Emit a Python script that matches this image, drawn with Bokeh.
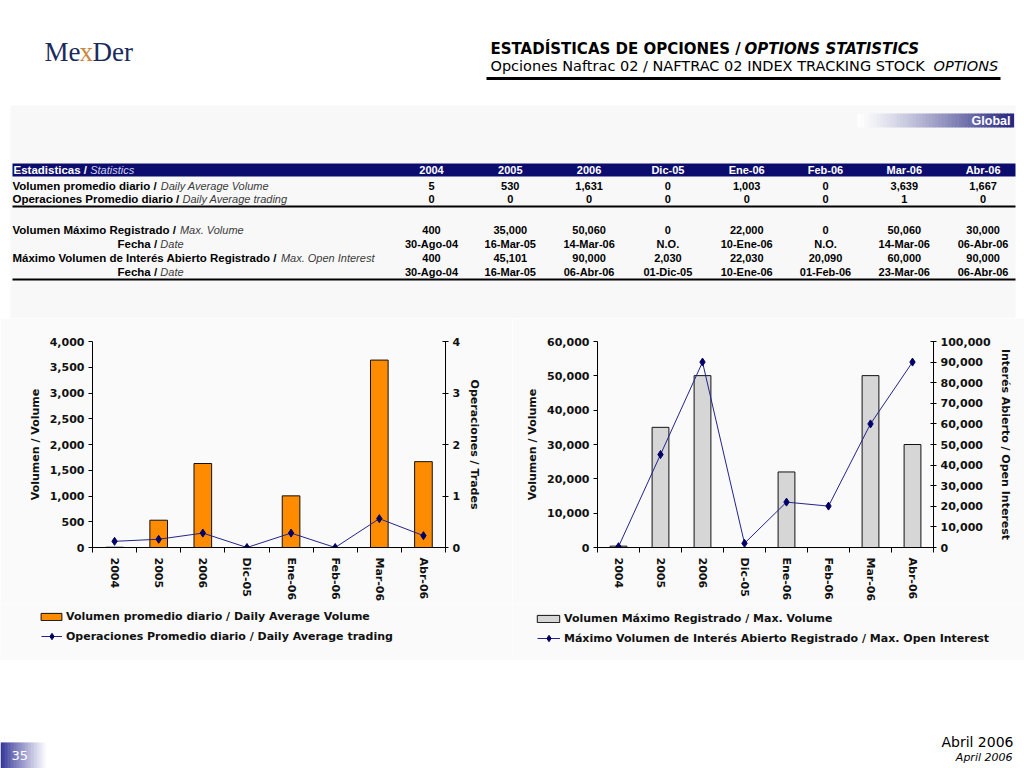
import math
from bokeh.plotting import figure
from bokeh.models import (Range1d, LinearAxis, FixedTicker, NumeralTickFormatter,
                          Legend, LegendItem)
from bokeh.layouts import column, row
from bokeh.core.properties import value
from bokeh.embed import file_html
from bokeh.resources import INLINE

# ---------------- data ----------------
categories = ["2004", "2005", "2006", "Dic-05", "Ene-06", "Feb-06", "Mar-06", "Abr-06"]
daily_avg_volume = [5, 530, 1631, 0, 1003, 0, 3639, 1667]
daily_avg_trades_table = [0, 0, 0, 0, 0, 0, 1, 0]
daily_avg_trades_chart = [0.12, 0.16, 0.28, 0.0, 0.28, 0.0, 0.56, 0.23]
max_volume = [400, 35000, 50060, 0, 22000, 0, 50060, 30000]
max_volume_date = ["30-Ago-04", "16-Mar-05", "14-Mar-06", "N.O.", "10-Ene-06", "N.O.", "14-Mar-06", "06-Abr-06"]
max_open_interest = [400, 45101, 90000, 2030, 22030, 20090, 60000, 90000]
max_open_interest_date = ["30-Ago-04", "16-Mar-05", "06-Abr-06", "01-Dic-05", "10-Ene-06", "01-Feb-06", "23-Mar-06", "06-Abr-06"]

title_main = "ESTADÍSTICAS DE OPCIONES / "
title_en = "OPTIONS STATISTICS"
subtitle_main = "Opciones Naftrac 02 / NAFTRAC 02 INDEX TRACKING STOCK "
subtitle_en = "OPTIONS"

NAVY = "#0c0c6e"
BG = "#fafafa"
xs = list(range(len(categories)))


def fmt(vals):
    return [f"{v:,}" for v in vals]


def txt(p, x, y, s, size, style="normal", color="#000000", align="left",
        font="Liberation Sans", baseline="middle"):
    p.text(x=[x], y=[y], text=[s], text_font=value(font), text_font_size=f"{size}px",
           text_font_style=style, text_color=color, text_align=align,
           text_baseline=baseline)


def mix(c1, c2, t):
    a = [int(c1[i:i + 2], 16) for i in (1, 3, 5)]
    b = [int(c2[i:i + 2], 16) for i in (1, 3, 5)]
    return "#%02x%02x%02x" % tuple(int(round(a[k] + (b[k] - a[k]) * t)) for k in range(3))


AB = {' ': 278, '/': 278, '.': 278, '-': 333, 'A': 722, 'E': 667, 'F': 611, 'I': 278,
      'M': 833, 'O': 778, 'P': 667, 'R': 722, 'V': 667, 'a': 556, 'b': 611, 'c': 556,
      'd': 611, 'e': 556, 'g': 611, 'h': 611, 'i': 278, 'l': 278, 'm': 889, 'n': 611,
      'o': 611, 'p': 611, 'r': 389, 's': 556, 't': 333, 'u': 611, 'x': 556, 'á': 556,
      'é': 556}


def wbold(s, size):
    return sum(AB.get(ch, 556) for ch in s) / 1000.0 * size


def blank(width, height, xr, yr, bg="white"):
    f = figure(width=width, height=height, x_range=Range1d(*xr), y_range=Range1d(*yr),
               output_backend="svg", toolbar_location=None, x_axis_location=None,
               y_axis_location=None, min_border=0)
    f.grid.visible = False
    f.outline_line_color = None
    f.background_fill_color = bg
    f.border_fill_color = bg
    return f


# ---------------- header + table ----------------
top = blank(1024, 318, (0, 1024), (318, 0))
top.quad(left=[10], right=[1015], top=[105], bottom=[318], fill_color="#f8f8f8", line_color=None)

# logo
txt(top, 44, 51, "Me", 27, "normal", "#1b2a5c", font="Liberation Serif")
txt(top, 79, 51, "x", 27, "normal", "#c8893e", font="Liberation Serif")
txt(top, 92, 51, "Der", 27, "normal", "#1b2a5c", font="Liberation Serif")

# titles
txt(top, 490, 48.5, title_main, 15, "bold", font="DejaVu Sans", baseline="alphabetic")
txt(top, 744, 48.5, title_en, 15, "bold italic", font="DejaVu Sans", baseline="alphabetic")
txt(top, 490, 65.5, subtitle_main, 14.5, "normal", font="DejaVu Sans", baseline="alphabetic")
txt(top, 933, 65.5, subtitle_en, 14.5, "italic", font="DejaVu Sans", baseline="alphabetic")
top.line(x=[486, 1000], y=[78, 78], line_width=3, line_color="black")

# Global bar
n = 48
gx0, gx1 = 857, 1013
gw = (gx1 - gx0) / n
top.quad(left=[gx0 + i * gw for i in range(n)], right=[gx0 + (i + 1) * gw + 0.6 for i in range(n)],
         top=[113] * n, bottom=[127] * n,
         fill_color=[mix("#ffffff", "#24247f", ((i + 0.5) / n) ** 1.2) for i in range(n)],
         line_color=None)
txt(top, 1010, 120.5, "Global", 12.5, "bold", "white", "right")

# table
col_x = [431 + 78.8 * i for i in range(len(categories))]
LBL = 11.5
VAL = 11
top.quad(left=[12], right=[1015], top=[163], bottom=[176], fill_color=NAVY, line_color=None)
hb = "Estadisticas / "
txt(top, 13, 169.5, hb, LBL, "bold", "white")
txt(top, 13 + wbold(hb, LBL), 169.5, "Statistics", 11, "italic", "#d0d0ee")
for cx, c in zip(col_x, categories):
    txt(top, cx, 169.5, c, VAL, "bold", "white", "center")

rows_spec = [
    (185, "Volumen promedio diario / ", "Daily Average Volume", False, fmt(daily_avg_volume)),
    (198, "Operaciones Promedio diario / ", "Daily Average trading", False, fmt(daily_avg_trades_table)),
    (229, "Volumen Máximo Registrado / ", "Max. Volume", False, fmt(max_volume)),
    (243, "Fecha / ", "Date", True, max_volume_date),
    (257, "Máximo Volumen de Interés Abierto Registrado / ", "Max. Open Interest", False, fmt(max_open_interest)),
    (271, "Fecha / ", "Date", True, max_open_interest_date),
]
for y, b, it, indent, vals in rows_spec:
    x0 = 117 if indent else 12
    txt(top, x0, y, b, LBL, "bold", "#000000")
    txt(top, x0 + wbold(b, LBL), y, it, 11, "italic", "#3a3a3a")
    for cx, v in zip(col_x, vals):
        txt(top, cx, y, v, VAL, "bold", "#000000", "center")
top.line(x=[12, 1015], y=[206, 206], line_width=2, line_color="black")
top.line(x=[12, 1015], y=[279, 279], line_width=2, line_color="black")


# ---------------- charts ----------------
def style_axis(ax):
    ax.axis_line_color = "black"
    ax.major_tick_line_color = "black"
    ax.minor_tick_line_color = None
    ax.major_label_text_font = "DejaVu Sans"
    ax.major_label_text_font_style = "bold"
    ax.major_label_text_font_size = "11px"
    ax.major_label_text_color = "#111111"
    ax.axis_label_text_font = "DejaVu Sans"
    ax.axis_label_text_font_style = "bold"
    ax.axis_label_text_font_size = "11px"
    ax.axis_label_text_color = "#111111"
    ax.axis_label_standoff = 5


LINE_COLOR = "#23238f"
MARK_COLOR = "#000066"


def add_series(p, bars, bar_color, line_vals, y2="y2", visible=True):
    vb = p.vbar(x=xs, top=bars, width=0.4, fill_color=bar_color, line_color="#111111",
                line_width=1, visible=visible)
    kw = {"y_range_name": y2} if y2 else {}
    ln = p.line(x=xs, y=line_vals, line_color=LINE_COLOR, line_width=1, visible=visible, **kw)
    sc = p.scatter(x=xs, y=line_vals, marker="diamond", size=8, fill_color=MARK_COLOR,
                   line_color=MARK_COLOR, visible=visible, **kw)
    return vb, ln, sc


def make_chart(bars, bar_color, line_vals, ymax, ystep, y2max, y2step, ylabel, y2label,
               bl, bt, fw, fh):
    W, H = 512, 286
    p = figure(width=W, height=H, x_range=Range1d(-0.5, len(categories) - 0.5),
               y_range=Range1d(0, ymax), output_backend="svg", toolbar_location=None,
               x_axis_location=None, y_axis_location=None,
               min_border_left=bl, min_border_right=W - bl - fw,
               min_border_top=bt, min_border_bottom=H - bt - fh)
    p.extra_y_ranges = {"y2": Range1d(0, y2max)}
    p.grid.visible = False
    p.outline_line_color = None
    p.background_fill_color = BG
    p.border_fill_color = BG

    xa = LinearAxis(ticker=FixedTicker(ticks=xs, minor_ticks=[i - 0.5 for i in range(len(categories) + 1)]),
                    major_label_overrides={i: c for i, c in zip(xs, categories)},
                    major_label_orientation=-math.pi / 2)
    style_axis(xa)
    xa.major_tick_line_color = None
    xa.major_tick_out = 5
    xa.major_tick_in = 0
    xa.minor_tick_line_color = "black"
    xa.minor_tick_out = 5
    xa.minor_tick_in = 0
    xa.major_label_standoff = 5
    p.add_layout(xa, "below")

    ya = LinearAxis(ticker=FixedTicker(ticks=list(range(0, ymax + 1, ystep))),
                    formatter=NumeralTickFormatter(format="0,0"), axis_label=ylabel)
    style_axis(ya)
    ya.major_tick_out = 4
    ya.major_tick_in = 0
    ya.major_label_standoff = 4
    p.add_layout(ya, "left")

    y2 = LinearAxis(y_range_name="y2", ticker=FixedTicker(ticks=list(range(0, y2max + 1, y2step))),
                    formatter=NumeralTickFormatter(format="0,0"), axis_label=y2label)
    style_axis(y2)
    y2.major_tick_out = 3
    y2.major_tick_in = 3
    y2.major_label_standoff = 4
    p.add_layout(y2, "right")

    add_series(p, bars, bar_color, line_vals)
    return p


def make_legend(bars, bar_color, line_vals, bar_label, line_label, leg1, leg2, gw1, gw2):
    lf = blank(512, 56, (0, 1), (0, 1), BG)
    # hidden copies of the chart series: only their legend glyphs are drawn here
    vb, ln, sc = add_series(lf, bars, bar_color, line_vals, y2=None, visible=False)
    common = dict(padding=0, margin=0, border_line_color=None, background_fill_alpha=0,
                  label_text_font="DejaVu Sans", label_text_font_style="bold",
                  label_text_font_size="11px", label_text_color="#111111",
                  label_height=16, spacing=0, inactive_fill_alpha=0)
    l1 = Legend(items=[LegendItem(label=bar_label, renderers=[vb])], location=leg1,
                glyph_width=gw1, glyph_height=9, label_standoff=2, **common)
    l2 = Legend(items=[LegendItem(label=line_label, renderers=[ln, sc])], location=leg2,
                glyph_width=gw2, glyph_height=16, label_standoff=4, **common)
    lf.add_layout(l1)
    lf.add_layout(l2)
    return lf


left = make_chart(daily_avg_volume, "#FF8C00", daily_avg_trades_chart, 4000, 500, 4, 1,
                  "Volumen / Volume", "Operaciones / Trades", 92, 21, 353, 208)
right = make_chart(max_volume, "#D6D6D6", max_open_interest, 60000, 10000, 100000, 10000,
                   "Volumen / Volume", "Interés Abierto / Open Interest", 85, 23, 336, 207)

left_leg = make_legend(daily_avg_volume, "#FF8C00", daily_avg_trades_chart,
                       "Volumen promedio diario / Daily Average Volume",
                       "Operaciones Promedio diario / Daily Average trading",
                       (38, 36), (41, 16), 26, 21)
right_leg = make_legend(max_volume, "#D6D6D6", max_open_interest,
                        "Volumen Máximo Registrado / Max. Volume",
                        "Máximo Volumen de Interés Abierto Registrado / Max. Open Interest",
                        (22, 34), (25, 14), 28, 23)

# ---------------- footer ----------------
foot = blank(1024, 108, (0, 1024), (768, 660))
m = 30
fx0, fx1 = 0, 46
fw_ = (fx1 - fx0) / m
foot.quad(left=[fx0 + i * fw_ for i in range(m)], right=[fx0 + (i + 1) * fw_ + 0.6 for i in range(m)],
          top=[742] * m, bottom=[768] * m,
          fill_color=[mix("#2f2f96", "#ffffff", ((i + 0.5) / m) ** 0.9) for i in range(m)],
          line_color=None)
txt(foot, 11, 755, "35", 13, "normal", "white", font="DejaVu Sans")
txt(foot, 1013, 741, "Abril 2006", 14, "normal", "#000000", "right", font="DejaVu Sans")
txt(foot, 1012, 757, "April 2006", 11, "italic", "#000000", "right", font="DejaVu Sans")

layout = column(top, row(left, right), row(left_leg, right_leg), foot)
open("out.html", "w").write(file_html(layout, INLINE))
